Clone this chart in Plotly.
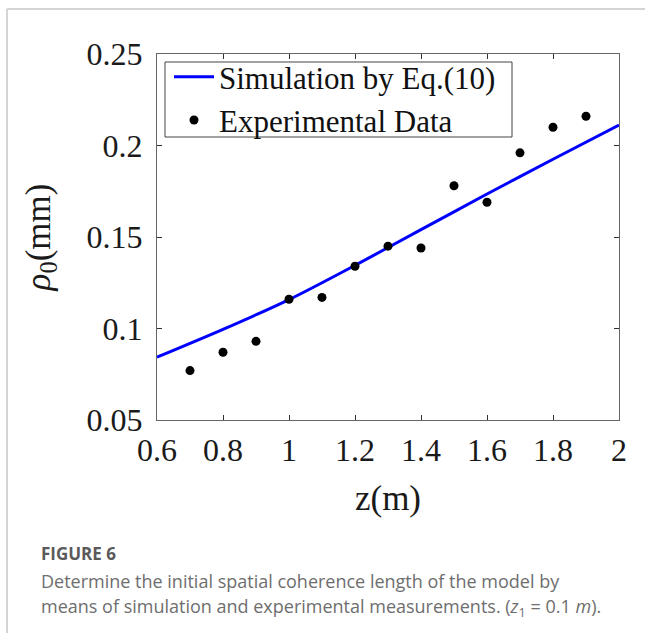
import plotly.graph_objects as go

# Simulation curve
sim_z = [0.6, 0.8, 1.0, 1.2, 1.4, 1.6, 1.8, 2.0]
sim_rho = [0.0843, 0.0995, 0.1158, 0.1345, 0.1540, 0.1735, 0.1925, 0.2112]

exp_z = [0.7, 0.8, 0.9, 1.0, 1.1, 1.2, 1.3, 1.4, 1.5, 1.6, 1.7, 1.8, 1.9]
exp_rho = [0.077, 0.087, 0.093, 0.116, 0.117, 0.134, 0.145, 0.144, 0.178, 0.169, 0.196, 0.210, 0.216]

x_ticks = [0.6, 0.8, 1.0, 1.2, 1.4, 1.6, 1.8, 2.0]
x_labels = ["0.6", "0.8", "1", "1.2", "1.4", "1.6", "1.8", "2"]
y_ticks = [0.05, 0.1, 0.15, 0.2, 0.25]
y_labels = ["0.05", "0.1", "0.15", "0.2", "0.25"]

SERIF = "Liberation Serif, Times New Roman, serif"

fig = go.Figure()
fig.add_trace(go.Scatter(
    x=sim_z, y=sim_rho, mode="lines", name="Simulation by Eq.(10)",
    line=dict(color="#0000ff", width=3, shape="spline", smoothing=0.8),
))
fig.add_trace(go.Scatter(
    x=exp_z, y=exp_rho, mode="markers", name="Experimental Data",
    marker=dict(color="black", size=9, symbol="circle"),
))

L, R, T, B = 157, 26, 54, 213
W, H = 645, 633
pw = W - L - R
ph = H - T - B

def px(x):
    return (x - L) / pw

def py(y):
    return (H - B - y) / ph

axis_common = dict(
    showline=True, linecolor="#666666", linewidth=1, mirror="ticks",
    ticks="inside", ticklen=5, tickcolor="#333333", tickwidth=1,
    showgrid=False, zeroline=False,
    tickfont=dict(family=SERIF, size=32, color="#1a1a1a"),
)

fig.update_layout(
    width=W, height=H,
    margin=dict(l=L, r=R, t=T, b=B, pad=0),
    paper_bgcolor="white", plot_bgcolor="white",
    showlegend=True,
    legend=dict(
        x=px(169), y=py(50), xanchor="left", yanchor="top",
        bgcolor="rgba(0,0,0,0)", borderwidth=0,
        font=dict(family=SERIF, size=31, color="#111111"),
        itemwidth=40, tracegroupgap=0,
    ),
    xaxis=dict(
        range=[0.6, 2.0], tickvals=x_ticks, ticktext=x_labels,
        ticklabelstandoff=2,
        title=dict(text="z(m)", font=dict(family=SERIF, size=35, color="#1a1a1a"), standoff=18),
        **axis_common,
    ),
    yaxis=dict(
        range=[0.05, 0.25], tickvals=y_ticks, ticktext=y_labels,
        ticklabelstandoff=7,
        title=dict(text="<i>ρ</i><sub>0</sub>(mm)", font=dict(family=SERIF, size=35, color="#1a1a1a"), standoff=25),
        **axis_common,
    ),
    shapes=[
        dict(type="rect", xref="paper", yref="paper", x0=px(165), x1=px(512), y0=py(137), y1=py(62),
             line=dict(color="#444444", width=1), fillcolor="white", layer="below"),
        dict(type="line", xref="paper", yref="paper", x0=px(7), x1=px(W), y0=py(9), y1=py(9),
             line=dict(color="#d4d4d4", width=2)),
        dict(type="line", xref="paper", yref="paper", x0=px(7), x1=px(7), y0=py(9), y1=py(H),
             line=dict(color="#d4d4d4", width=2)),
    ],
    annotations=[
        dict(xref="paper", yref="paper", x=px(39), y=py(553), xanchor="left", yanchor="middle",
             showarrow=False, text="<b>FIGURE 6</b>",
             font=dict(family="Open Sans, sans-serif", size=17, color="#5a5a5a")),
        dict(xref="paper", yref="paper", x=px(39), y=py(581), xanchor="left", yanchor="middle",
             showarrow=False,
             text="Determine the initial spatial coherence length of the model by",
             font=dict(family="Open Sans, sans-serif", size=18, color="#6e6e6e")),
        dict(xref="paper", yref="paper", x=px(39), y=py(607), xanchor="left", yanchor="middle",
             showarrow=False,
             text="means of simulation and experimental measurements. (<i>z</i><sub>1</sub> = 0.1 <i>m</i>).",
             font=dict(family="Open Sans, sans-serif", size=18, color="#6e6e6e")),
    ],
)

fig.write_html("out.html")
